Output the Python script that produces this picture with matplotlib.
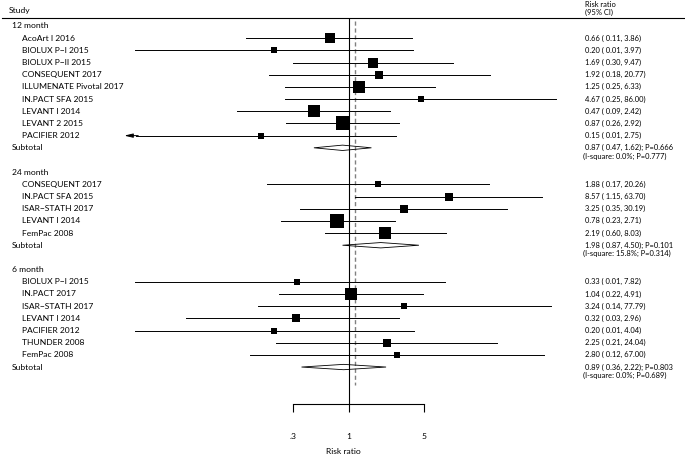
import numpy as np
import matplotlib
matplotlib.use("Agg")
import matplotlib.pyplot as plt
from matplotlib.lines import Line2D
from matplotlib.transforms import blended_transform_factory

plt.rcParams['font.family'] = ['Lato', 'DejaVu Sans']

# ---- data ----
groups = ["12 month", "24 month", "6 month"]

study_12 = ["AcoArt I 2016", "BIOLUX P\u2212I 2015", "BIOLUX P\u2212II 2015", "CONSEQUENT 2017",
            "ILLUMENATE Pivotal 2017", "IN.PACT SFA 2015", "LEVANT I 2014", "LEVANT 2 2015",
            "PACIFIER 2012"]
rr_12 = [0.66, 0.20, 1.69, 1.92, 1.25, 4.67, 0.47, 0.87, 0.15]
lo_12 = [0.11, 0.01, 0.30, 0.18, 0.25, 0.25, 0.09, 0.26, 0.007]
hi_12 = [3.86, 3.97, 9.47, 20.77, 6.33, 86.00, 2.42, 2.92, 2.75]
wt_12 = [5.6, 2.0, 5.6, 3.6, 6.8, 2.7, 6.8, 11.0, 2.0]

study_24 = ["CONSEQUENT 2017", "IN.PACT SFA 2015", "ISAR\u2212STATH 2017", "LEVANT I 2014", "FemPac 2008"]
rr_24 = [1.88, 8.57, 3.25, 0.78, 2.19]
lo_24 = [0.17, 1.15, 0.35, 0.23, 0.60]
hi_24 = [20.26, 63.70, 30.19, 2.71, 8.03]
wt_24 = [2.7, 4.0, 3.6, 11.0, 9.4]

study_6 = ["BIOLUX P\u2212I 2015", "IN.PACT 2017", "ISAR\u2212STATH 2017", "LEVANT I 2014",
           "PACIFIER 2012", "THUNDER 2008", "FemPac 2008"]
rr_6 = [0.33, 1.04, 3.24, 0.32, 0.20, 2.25, 2.80]
lo_6 = [0.01, 0.22, 0.14, 0.03, 0.01, 0.21, 0.12]
hi_6 = [7.82, 4.91, 77.79, 2.96, 4.04, 24.04, 67.00]
wt_6 = [2.0, 8.0, 2.0, 3.6, 2.0, 3.6, 2.0]

sub_rr = [0.87, 1.98, 0.89]
sub_lo = [0.47, 0.87, 0.36]
sub_hi = [1.62, 4.50, 2.22]
sub_p = ["0.666", "0.101", "0.803"]
sub_i2 = [0.0, 15.8, 0.0]
sub_phet = ["0.777", "0.314", "0.689"]

overall_rr = 1.14
xticks = [0.3, 1, 5]
xticklabels = [".3", "1", "5"]

# ---- figure ----
W, H = 685, 457
fig = plt.figure(figsize=(W / 100, H / 100), dpi=100)

xmin, xmax = 10 ** -2.1, 10 ** 2.0
px_dec = 107.0
left_px = 349 - 2.1 * px_dec
right_px = 349 + 2.0 * px_dec
top_px, bot_px = 18, 404
row0, drow = 26.0, 12.18

ax = fig.add_axes([left_px / W, 1 - bot_px / H, (right_px - left_px) / W, (bot_px - top_px) / H])
ax.set_xscale('log')
ax.set_xlim(xmin, xmax)
ax.set_ylim((bot_px - row0) / drow, (top_px - row0) / drow)

fs = 6.1      # left labels
fv = 5.4      # right-hand estimates
lab = blended_transform_factory(fig.transFigure, ax.transData)
x_grp, x_study, x_val = 12 / W, 22 / W, 585 / W

def side(w):
    # box side in points, area ~ weight
    return 14 * np.sqrt(w / 11.0) * 0.72

all_studies = [(study_12, rr_12, lo_12, hi_12, wt_12),
               (study_24, rr_24, lo_24, hi_24, wt_24),
               (study_6, rr_6, lo_6, hi_6, wt_6)]

row = 0
for g, (names, rr, lo, hi, wt) in enumerate(all_studies):
    ax.text(x_grp, row, groups[g], transform=lab, fontsize=fs, va='center', ha='left')
    row += 1
    for name, e, l, h, w in zip(names, rr, lo, hi, wt):
        ax.text(x_study, row, name, transform=lab, fontsize=fs, va='center', ha='left')
        ax.text(x_val, row, f"{e:.2f} ( {l:.2f}, {h:.2f})", transform=lab,
                fontsize=fv, va='center', ha='left')
        if l < xmin:
            ax.plot([xmin * 1.3, h], [row, row], color='black', lw=0.7, zorder=2)
            ax.annotate('', xy=(xmin, row), xytext=(xmin * 1.35, row),
                        arrowprops=dict(arrowstyle='-|>,head_length=0.5,head_width=0.12',
                                        color='black', lw=0.7, shrinkA=0, shrinkB=0))
        else:
            ax.plot([l, h], [row, row], color='black', lw=0.7, zorder=2)
        ax.scatter([e], [row], marker='s', s=side(w) ** 2, color='black', linewidths=0, zorder=3)
        row += 1
    # subtotal
    ax.text(x_study - 10 / W, row, "Subtotal", transform=lab, fontsize=fs, va='center', ha='left')
    ax.text(x_val, row, f"{sub_rr[g]:.2f} ( {sub_lo[g]:.2f}, {sub_hi[g]:.2f}); P={sub_p[g]}",
            transform=lab, fontsize=fv, va='center', ha='left')
    ax.text(x_val - 2 / W, row + 0.68, f"(I-square: {sub_i2[g]:.1f}%; P={sub_phet[g]})",
            transform=lab, fontsize=fv, va='center', ha='left')
    dh = 0.22
    ax.fill([sub_lo[g], sub_rr[g], sub_hi[g], sub_rr[g]], [row, row - dh, row, row + dh],
            facecolor='none', edgecolor='black', lw=0.6, zorder=3)
    row += 2

# reference and overall lines
ax.axvline(1, color='black', lw=0.8, zorder=1)
ax.plot([overall_rr, overall_rr], [-0.4, 29.5], color='#808080', lw=1.0,
        ls=(0, (3, 2)), zorder=1)

# axis styling
for s in ['top', 'left', 'right']:
    ax.spines[s].set_visible(False)
ax.spines['bottom'].set_bounds(xticks[0], xticks[-1])
ax.spines['bottom'].set_linewidth(0.8)
ax.set_yticks([])
ax.set_xticks(xticks)
ax.set_xticklabels(xticklabels)
ax.xaxis.set_minor_locator(plt.NullLocator())
ax.tick_params(axis='x', direction='out', length=6, width=0.8, pad=15, labelsize=fs)
ax.set_xlabel("Risk ratio", fontsize=fs, labelpad=6)

# header
y_rule = 1 - top_px / H
fig.add_artist(Line2D([0.003, 1], [y_rule, y_rule], color='black', lw=0.8,
                      transform=fig.transFigure))
fig.text(9 / W, 1 - 11 / H, "Study", fontsize=fs, va='center', ha='left')
fig.text(x_val, 1 - 4.5 / H, "Risk ratio", fontsize=fv, va='center', ha='left')
fig.text(x_val, 1 - 12 / H, "(95% CI)", fontsize=fv, va='center', ha='left')

fig.savefig("out.png", dpi=100)
